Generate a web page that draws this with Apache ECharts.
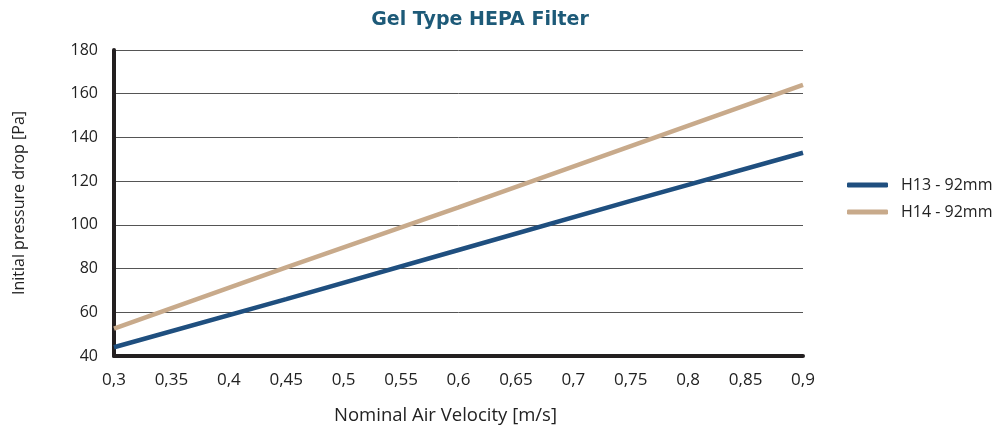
<!DOCTYPE html>
<html><head><meta charset="utf-8">
<script src="https://cdn.jsdelivr.net/npm/echarts@6/dist/echarts.min.js"></script>
<style>html,body{margin:0;padding:0;background:#fff}#c{width:1000px;height:428px}</style>
</head><body><div id="c"></div>
<script>
const velocity = [0.3, 0.45, 0.6, 0.75, 0.9];
const h13 = [44, 66, 88.5, 111, 133];
const h14 = [52.5, 80.5, 108, 136, 164];
const seriesNames = ['H13 - 92mm', 'H14 - 92mm'];
const xTickLabels = ['0,3','0,35','0,4','0,45','0,5','0,55','0,6','0,65','0,7','0,75','0,8','0,85','0,9'];

const chart = echarts.init(document.getElementById('c'), null, {renderer: 'canvas'});
const sans = '"Open Sans", sans-serif';
chart.setOption({
  animation: false,
  backgroundColor: '#ffffff',
  title: {
    text: 'Gel Type HEPA Filter',
    left: 475, top: 6, textAlign: 'center',
    textStyle: {color: '#1d5a78', fontSize: 19, fontWeight: 'bold', fontFamily: '"DejaVu Sans", sans-serif'}
  },
  legend: {
    orient: 'vertical', left: 842, top: 172, itemGap: 11,
    itemWidth: 41, itemHeight: 5, icon: 'roundRect',
    textStyle: {fontSize: 16, color: '#222', fontFamily: sans, padding: [0,0,0,8]},
    data: seriesNames
  },
  grid: {left: 114, right: 197, top: 50, bottom: 72, containLabel: false, outerBoundsMode: 'none'},
  xAxis: {
    type: 'value', min: 0.3, max: 0.9, interval: 0.05,
    name: 'Nominal Air Velocity [m/s]', nameLocation: 'middle', nameGap: 50,
    nameTextStyle: {fontSize: 18.5, color: '#222', fontFamily: sans, padding: [0, 26, 0, 0]},
    axisLine: {show: true, lineStyle: {color: '#231f20', width: 4}},
    axisTick: {show: false},
    splitLine: {show: false},
    axisLabel: {
      margin: 16, fontSize: 17, color: '#222', fontFamily: sans,
      formatter: v => xTickLabels[Math.round((v - 0.3) / 0.05)]
    }
  },
  yAxis: {
    type: 'value', min: 40, max: 180, interval: 20,
    name: 'Initial pressure drop [Pa]', nameLocation: 'middle', nameGap: 87, nameRotate: 90,
    nameTextStyle: {fontSize: 16, color: '#222', fontFamily: sans},
    axisLine: {show: true, lineStyle: {color: '#231f20', width: 4}},
    axisTick: {show: false},
    splitLine: {show: true, lineStyle: {color: '#555', width: 1}},
    axisLabel: {margin: 16, fontSize: 16, color: '#222', fontFamily: sans}
  },
  series: [
    {name: seriesNames[0], type: 'line', data: velocity.map((v,i)=>[v,h13[i]]), showSymbol: false,
     lineStyle: {color: '#1f4f7f', width: 4.5}, itemStyle: {color: '#1f4f7f'}},
    {name: seriesNames[1], type: 'line', data: velocity.map((v,i)=>[v,h14[i]]), showSymbol: false,
     lineStyle: {color: '#c8aa8b', width: 4.5}, itemStyle: {color: '#c8aa8b'}}
  ]
});
</script></body></html>
